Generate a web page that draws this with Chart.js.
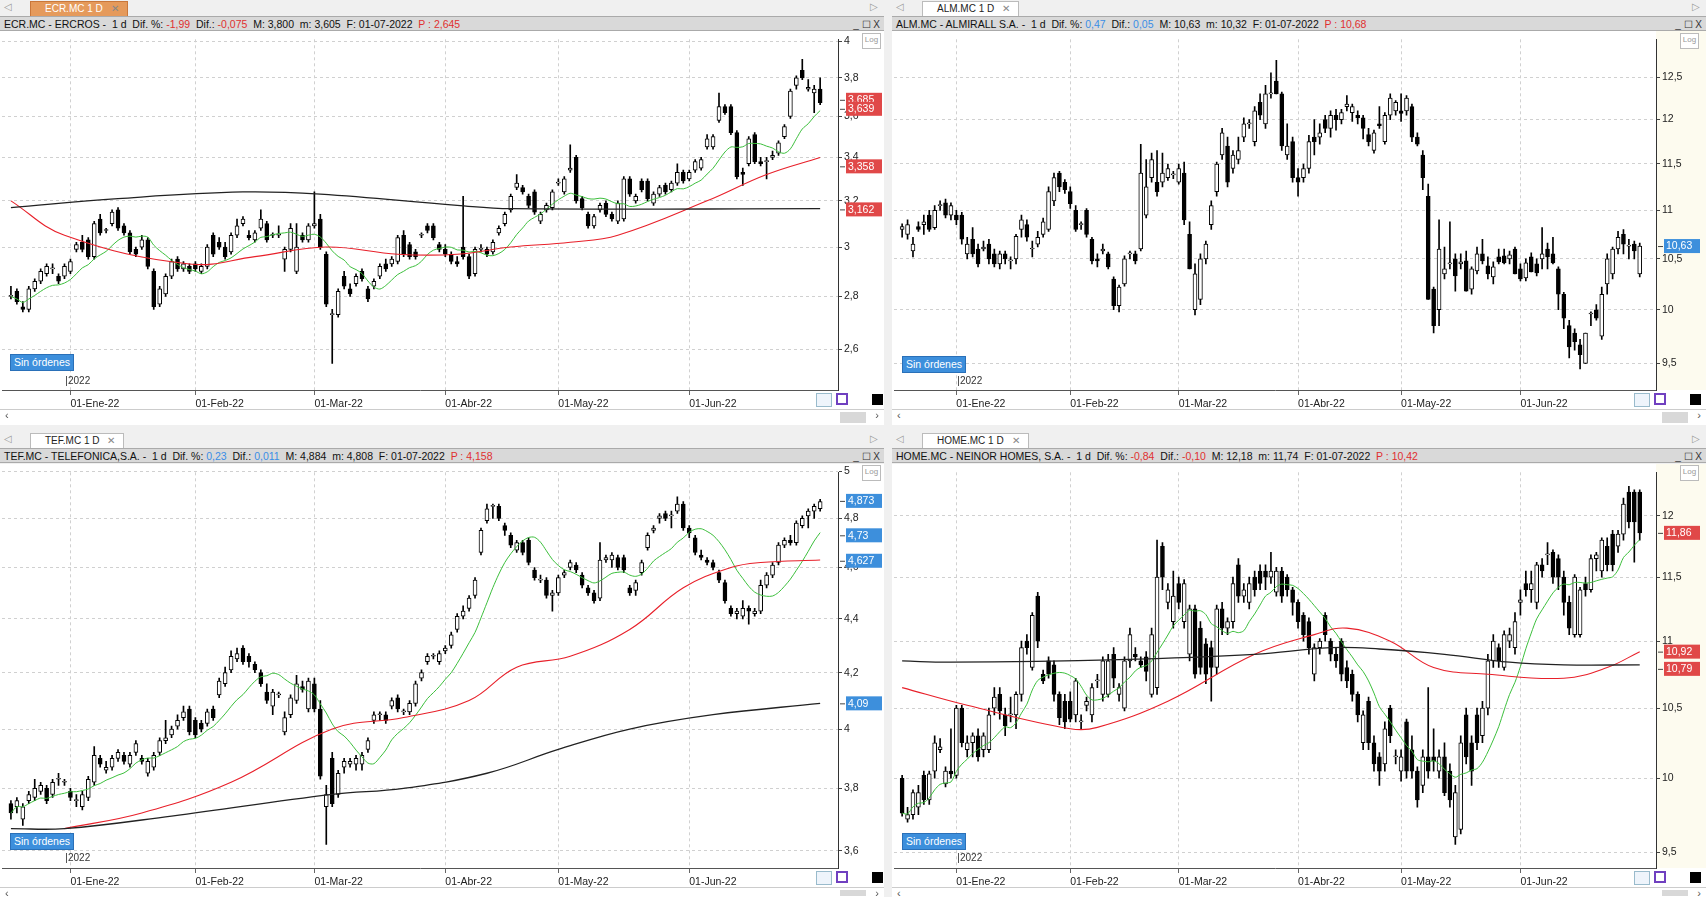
<!DOCTYPE html>
<html><head><meta charset="utf-8">
<script src="https://cdn.jsdelivr.net/npm/chart.js@4.4.1/dist/chart.umd.min.js"></script>
<style>
body{margin:0;width:1706px;height:897px;background:#f0f0f0;font-family:"Liberation Sans",Arial,sans-serif;overflow:hidden;position:relative}
.abs{position:absolute}
.tabrow{position:absolute;height:16px;background:#f0f0f0;border-bottom:1px solid #c8c8c8}
.tab{position:absolute;top:1px;height:14px;font-size:10px;line-height:14px;padding:0 8px 0 14px;background:#fff;border:1px solid #bbb;border-bottom:none;color:#222}
.tab.act{background:#e59a5b;color:#fff;border-color:#c9773a}
.tab span{margin-left:8px;color:#888}
.hdr{position:absolute;height:15px;background:#d9d9d9;border-top:1px solid #aaa;border-bottom:1px solid #aaa;font-size:10.5px;line-height:15px;white-space:nowrap;color:#111;padding-left:4px;box-sizing:border-box}
.hdr .r{color:#e03030}.hdr .b{color:#3a8ee6}
.hdr .win{position:absolute;right:4px;top:0;color:#333;font-size:10px}
.sc{position:absolute;background:#fff;border-top:1px solid #ccc;font-size:11px;color:#555}
.sc .th{position:absolute;right:18px;top:2px;width:26px;height:10px;background:#d8d8d8}
.sin{position:absolute;background:#3d8fdc;color:#fff;font-size:10.5px;line-height:15px;padding:0 3px;border:1px solid #2a70b8}
.y22{position:absolute;font-size:10px;color:#333;border-left:1px solid #555;padding-left:1px;line-height:10px}
.log{position:absolute;width:17px;height:14px;border:1px solid #bbb;font-size:8px;color:#999;text-align:center;line-height:12px;background:#fff}
canvas{position:absolute}
</style></head><body>
<script>
// ---------- DATA ----------
const monthIdx = [10, 31, 51, 73, 92, 114];
const monthLbl = ["01-Ene-22","01-Feb-22","01-Mar-22","01-Abr-22","01-May-22","01-Jun-22"];

const ercrosOHLC = [
[2.80,2.84,2.79,2.80],[2.82,2.83,2.77,2.78],[2.76,2.78,2.74,2.75],[2.75,2.84,2.74,2.83],[2.83,2.87,2.82,2.86],[2.86,2.91,2.85,2.90],[2.89,2.93,2.88,2.92],[2.91,2.93,2.89,2.91],[2.88,2.89,2.85,2.86],[2.88,2.93,2.87,2.92],
[2.90,2.95,2.89,2.94],[2.99,3.02,2.98,3.01],[3.02,3.05,2.98,2.99],[3.03,3.04,2.95,2.96],[2.96,3.11,2.95,3.10],[3.12,3.14,3.05,3.06],[3.07,3.08,3.06,3.07],[3.10,3.16,3.09,3.15],[3.16,3.17,3.07,3.08],[3.09,3.10,3.05,3.06],[3.06,3.07,2.97,2.98],[2.99,3.00,2.96,2.97],[3.00,3.05,2.99,3.03],[3.03,3.04,2.91,2.92],[2.90,2.91,2.75,2.76],[2.77,2.84,2.76,2.83],[2.81,2.89,2.80,2.88],[2.88,2.95,2.87,2.94],[2.95,2.96,2.90,2.91],[2.91,2.94,2.90,2.93],[2.92,2.93,2.89,2.90],
[2.93,2.94,2.90,2.91],[2.90,2.93,2.89,2.92],[2.92,3.01,2.91,3.00],[3.05,3.06,2.96,2.97],[3.02,3.04,2.99,3.00],[3.00,3.02,2.95,2.96],[2.98,3.06,2.97,3.05],[3.05,3.12,3.04,3.09],[3.10,3.13,3.09,3.12],[3.05,3.07,3.03,3.04],[3.03,3.07,3.02,3.06],[3.08,3.16,3.07,3.12],[3.10,3.11,3.02,3.03],[3.05,3.06,3.04,3.05],[3.05,3.09,3.04,3.05],[2.95,3.00,2.90,2.99],[2.99,3.10,2.98,3.08],[2.90,3.10,2.89,3.00],[3.05,3.06,3.02,3.03],[3.03,3.10,3.02,3.09],
[3.09,3.24,3.08,3.10],[3.12,3.14,2.99,3.00],[2.97,2.98,2.76,2.77],[2.73,2.75,2.55,2.73],[2.73,2.83,2.72,2.82],[2.88,2.90,2.83,2.84],[2.83,2.85,2.80,2.81],[2.85,2.89,2.84,2.88],[2.90,2.91,2.86,2.87],[2.83,2.84,2.78,2.79],[2.84,2.87,2.83,2.86],[2.88,2.93,2.87,2.92],[2.93,2.95,2.90,2.91],[2.93,2.96,2.92,2.95],[2.94,3.05,2.93,3.04],[3.05,3.07,2.96,2.97],[3.01,3.02,2.95,2.96],[2.98,2.99,2.95,2.96],[3.05,3.06,3.04,3.05],[3.09,3.10,3.06,3.07],[3.09,3.10,3.03,3.04],[3.01,3.02,2.98,2.99],
[2.99,3.01,2.96,2.97],[2.97,2.98,2.93,2.94],[2.94,2.96,2.92,2.93],[3.00,3.22,2.95,2.96],[2.96,2.97,2.87,2.88],[2.89,3.00,2.88,2.99],[2.99,3.01,2.98,2.99],[2.99,3.00,2.96,2.97],[2.98,3.03,2.97,3.02],[3.06,3.09,3.05,3.08],[3.10,3.15,3.09,3.14],[3.16,3.23,3.15,3.22],[3.26,3.32,3.25,3.28],[3.26,3.27,3.23,3.24],[3.22,3.23,3.17,3.18],[3.24,3.25,3.14,3.15],[3.11,3.15,3.10,3.14],[3.16,3.19,3.15,3.18],[3.17,3.25,3.16,3.24],
[3.28,3.30,3.27,3.28],[3.24,3.31,3.23,3.30],[3.34,3.46,3.33,3.35],[3.40,3.41,3.19,3.20],[3.21,3.22,3.16,3.17],[3.14,3.15,3.08,3.09],[3.09,3.14,3.08,3.13],[3.16,3.19,3.15,3.18],[3.19,3.20,3.13,3.14],[3.14,3.15,3.11,3.12],[3.11,3.20,3.10,3.19],[3.12,3.31,3.11,3.30],[3.30,3.31,3.22,3.23],[3.20,3.23,3.19,3.22],[3.29,3.30,3.24,3.25],[3.29,3.30,3.20,3.21],[3.19,3.24,3.18,3.23],[3.23,3.27,3.22,3.26],[3.27,3.28,3.23,3.24],[3.25,3.29,3.24,3.28],[3.28,3.37,3.27,3.33],[3.33,3.34,3.28,3.29],
[3.30,3.34,3.29,3.33],[3.34,3.39,3.33,3.38],[3.35,3.40,3.34,3.39],[3.45,3.51,3.44,3.49],[3.45,3.51,3.44,3.50],[3.58,3.72,3.57,3.65],[3.65,3.66,3.61,3.62],[3.65,3.66,3.51,3.52],[3.52,3.53,3.30,3.31],[3.33,3.35,3.27,3.32],[3.37,3.50,3.36,3.49],[3.51,3.52,3.37,3.38],[3.38,3.40,3.36,3.37],[3.38,3.40,3.30,3.38],[3.40,3.43,3.39,3.41],[3.42,3.48,3.41,3.47],[3.50,3.56,3.49,3.55],[3.60,3.74,3.59,3.73],[3.76,3.81,3.74,3.80],[3.84,3.90,3.79,3.80],[3.74,3.79,3.73,3.75],[3.72,3.76,3.62,3.74],[3.74,3.80,3.66,3.67]];
const ercrosMA50 = [[0,3.20],[9,3.05],[30,2.93],[41,2.96],[53,3.00],[65,2.97],[75,2.97],[84,3.00],[94,3.02],[102,3.05],[117,3.20],[127,3.32],[136,3.40]];
const ercrosMA200 = [[0,3.17],[18,3.21],[39,3.24],[52,3.23],[75,3.18],[84,3.165],[136,3.165]];
const ercrosTicks = [2.6,2.8,3,3.2,3.4,3.6,3.8,4];
const ercrosTags = [[3.685,"3,685"],[3.639,"3,639"],[3.358,"3,358"],[3.162,"3,162"]];

const almirallOHLC = [
[10.80,10.86,10.72,10.83],[10.75,10.90,10.70,10.85],[10.58,10.72,10.52,10.65],[10.83,10.88,10.78,10.80],[10.85,10.95,10.75,10.88],[10.95,11.00,10.78,10.80],[10.82,11.05,10.80,11.00],[11.05,11.10,11.00,11.05],[11.08,11.12,10.92,10.95],[10.95,11.08,10.90,11.05],
[10.95,11.00,10.85,10.90],[10.95,10.98,10.65,10.70],[10.55,10.72,10.50,10.65],[10.70,10.82,10.52,10.55],[10.60,10.65,10.42,10.45],[10.60,10.68,10.58,10.62],[10.65,10.70,10.45,10.50],[10.55,10.60,10.42,10.45],[10.45,10.58,10.40,10.55],[10.55,10.58,10.45,10.50],[10.48,10.52,10.40,10.48],[10.50,10.75,10.45,10.73],[10.80,10.95,10.72,10.90],[10.85,10.90,10.68,10.72],[10.60,10.68,10.52,10.60],[10.65,10.78,10.62,10.72],[10.75,10.92,10.72,10.88],[10.80,11.25,10.78,11.20],[11.10,11.40,11.05,11.35],[11.40,11.42,11.20,11.25],[11.30,11.33,11.18,11.22],[11.20,11.25,11.02,11.07],
[11.00,11.05,10.78,10.80],[10.85,10.88,10.80,10.85],[11.00,11.02,10.72,10.75],[10.70,10.72,10.45,10.48],[10.50,10.55,10.42,10.48],[10.58,10.65,10.55,10.60],[10.55,10.57,10.40,10.42],[10.30,10.32,10.00,10.04],[10.04,10.24,9.98,10.22],[10.25,10.53,10.23,10.50],[10.55,10.58,10.50,10.55],[10.55,10.58,10.45,10.48],[10.60,11.72,10.58,11.40],[10.95,11.55,10.92,11.25],[11.35,11.62,11.30,11.55],[11.30,11.65,11.15,11.20],[11.30,11.62,11.25,11.40],[11.35,11.50,11.32,11.45],[11.38,11.42,11.34,11.38],[11.30,11.50,11.28,11.45],[11.40,11.52,10.85,10.90],
[10.75,10.88,10.40,10.40],[10.00,10.45,9.95,10.35],[10.10,10.55,10.05,10.50],[10.50,10.68,10.45,10.65],[10.85,11.10,10.80,11.05],[11.20,11.52,11.15,11.50],[11.60,11.90,11.55,11.85],[11.70,11.80,11.25,11.30],[11.45,11.65,11.40,11.60],[11.55,11.80,11.50,11.65],[11.80,12.02,11.75,11.95],[11.95,12.00,11.90,11.95],[11.75,12.15,11.70,12.10],[12.20,12.30,12.00,12.05],[11.95,12.40,11.90,12.30],[12.30,12.55,12.25,12.30],[12.45,12.70,12.30,12.30],[12.30,12.32,11.65,11.70],[11.60,11.95,11.55,11.70],
[11.75,11.80,11.30,11.35],[11.35,11.45,11.15,11.30],[11.35,11.50,11.30,11.45],[11.45,11.82,11.40,11.75],[11.80,12.00,11.60,11.75],[11.80,11.95,11.72,11.85],[12.00,12.05,11.85,11.90],[11.90,12.10,11.80,12.05],[12.05,12.12,11.88,12.00],[12.00,12.12,11.95,12.08],[12.15,12.28,12.10,12.18],[12.08,12.18,11.98,12.15],[12.05,12.10,11.95,12.02],[12.02,12.05,11.78,11.90],[11.83,11.90,11.70,11.75],[11.65,11.88,11.62,11.85],[11.95,12.15,11.90,11.93],[11.75,12.08,11.72,12.05],[12.05,12.30,12.00,12.25],[12.10,12.22,12.05,12.20],[12.10,12.30,11.98,12.07],[12.10,12.28,12.05,12.25],[12.15,12.18,11.75,11.80],[11.80,11.85,11.70,11.72],[11.60,11.65,11.22,11.35],[11.15,11.28,10.10,10.10],[10.20,10.22,9.78,9.85],[10.00,10.90,9.85,10.60],[10.35,10.62,10.30,10.40],[10.45,10.88,10.40,10.45],[10.50,10.55,10.18,10.33],[10.45,10.55,10.40,10.47],[10.48,10.58,10.18,10.18],[10.20,10.42,10.15,10.40],[10.38,10.62,10.35,10.55],[10.55,10.70,10.45,10.48],[10.43,10.52,10.30,10.35],[10.32,10.47,10.25,10.42],[10.52,10.60,10.45,10.47],[10.53,10.60,10.45,10.46],[10.50,10.58,10.45,10.54],[10.60,10.62,10.35,10.35],[10.40,10.45,10.28,10.30],[10.31,10.50,10.28,10.46],[10.52,10.56,10.37,10.37],[10.45,10.50,10.33,10.36],[10.50,10.82,10.40,10.55],[10.60,10.66,10.40,10.52],[10.55,10.72,10.45,10.46],[10.40,10.42,10.00,10.15],[10.15,10.17,9.82,9.92],[9.85,9.90,9.55,9.65],[9.78,9.82,9.62,9.70],[9.67,9.72,9.45,9.58],[9.50,9.78,9.50,9.78],[9.96,9.98,9.85,9.96],[10.00,10.05,9.90,9.92],[9.75,10.22,9.72,10.15],[10.25,10.55,10.15,10.50],[10.35,10.62,10.30,10.60],[10.60,10.78,10.55,10.72],[10.75,10.80,10.55,10.65],[10.63,10.70,10.50,10.63],[10.65,10.68,10.50,10.58],[10.35,10.66,10.32,10.63]];
const almirallTicks = [9.5,10,10.5,11,11.5,12,12.5];
const almirallTags = [[10.63,"10,63"]];

const telefonicaOHLC = [
[3.75,3.76,3.70,3.72],[3.74,3.77,3.72,3.76],[3.70,3.75,3.68,3.74],[3.76,3.79,3.75,3.78],[3.77,3.83,3.76,3.80],[3.79,3.82,3.78,3.81],[3.80,3.81,3.75,3.76],[3.78,3.83,3.77,3.82],[3.83,3.85,3.81,3.83],[3.82,3.83,3.81,3.82],
[3.79,3.80,3.76,3.77],[3.76,3.78,3.74,3.76],[3.74,3.79,3.73,3.78],[3.77,3.84,3.76,3.83],[3.82,3.94,3.81,3.91],[3.90,3.91,3.87,3.88],[3.86,3.89,3.85,3.87],[3.87,3.91,3.86,3.90],[3.90,3.93,3.89,3.92],[3.91,3.92,3.88,3.89],[3.88,3.92,3.87,3.91],[3.92,3.96,3.91,3.95],[3.90,3.91,3.88,3.89],[3.85,3.90,3.84,3.89],[3.87,3.92,3.86,3.91],[3.92,3.97,3.91,3.96],[3.96,4.03,3.95,3.97],
[3.98,4.01,3.97,4.00],[4.01,4.05,4.00,4.03],[4.04,4.08,4.03,4.06],[4.07,4.08,3.98,3.99],[4.03,4.04,3.97,3.98],[4.02,4.03,3.99,4.00],[4.02,4.07,4.01,4.06],[4.07,4.08,4.03,4.04],[4.12,4.18,4.11,4.17],[4.16,4.22,4.15,4.20],[4.21,4.28,4.20,4.26],[4.25,4.29,4.24,4.27],[4.29,4.30,4.23,4.24],[4.26,4.27,4.22,4.24],[4.23,4.24,4.20,4.21],[4.20,4.21,4.15,4.16],[4.13,4.16,4.09,4.10],
[4.08,4.14,4.05,4.13],[4.12,4.13,4.11,4.12],[3.99,4.06,3.98,4.04],[4.05,4.12,4.04,4.11],[4.10,4.19,4.09,4.16],[4.15,4.17,4.13,4.14],[4.07,4.18,4.06,4.17],[4.16,4.18,4.06,4.07],
[4.07,4.10,3.83,3.84],[3.74,3.81,3.62,3.78],[3.90,3.92,3.74,3.75],[3.78,3.86,3.77,3.85],[3.87,3.90,3.85,3.89],[3.88,3.90,3.87,3.89],[3.88,3.91,3.86,3.90],[3.88,3.92,3.86,3.91],[3.93,3.97,3.92,3.96],[4.03,4.06,4.02,4.05],[4.05,4.06,4.03,4.05],[4.05,4.06,4.02,4.03],[4.08,4.11,4.07,4.10],[4.11,4.12,4.06,4.07],[4.06,4.07,4.05,4.06],[4.06,4.10,4.05,4.09],[4.09,4.17,4.08,4.16],[4.18,4.21,4.17,4.20],[4.24,4.27,4.23,4.26],[4.26,4.27,4.25,4.26],[4.24,4.28,4.23,4.27],[4.28,4.30,4.27,4.29],[4.30,4.35,4.29,4.34],
[4.36,4.42,4.35,4.41],[4.41,4.45,4.40,4.43],[4.44,4.49,4.43,4.48],[4.49,4.56,4.48,4.55],[4.66,4.76,4.65,4.75],[4.79,4.86,4.78,4.84],[4.85,4.86,4.80,4.85],[4.85,4.86,4.79,4.80],[4.77,4.78,4.73,4.75],[4.73,4.74,4.68,4.69],[4.67,4.71,4.66,4.70],[4.70,4.71,4.65,4.66],[4.71,4.72,4.61,4.62],[4.59,4.60,4.55,4.56],[4.55,4.57,4.54,4.55],[4.55,4.56,4.48,4.49],[4.49,4.51,4.43,4.50],[4.50,4.57,4.49,4.56],[4.57,4.59,4.56,4.58],
[4.60,4.63,4.59,4.62],[4.61,4.62,4.58,4.59],[4.57,4.58,4.52,4.53],[4.52,4.53,4.49,4.50],[4.50,4.51,4.46,4.47],[4.48,4.70,4.47,4.63],[4.63,4.65,4.62,4.64],[4.63,4.66,4.60,4.65],[4.64,4.65,4.59,4.60],[4.64,4.65,4.58,4.59],[4.52,4.53,4.49,4.50],[4.51,4.55,4.49,4.54],[4.58,4.63,4.57,4.62],[4.68,4.74,4.67,4.73],[4.75,4.77,4.74,4.76],[4.80,4.82,4.78,4.81],[4.82,4.83,4.79,4.80],[4.81,4.83,4.76,4.81],[4.83,4.89,4.82,4.86],[4.86,4.87,4.75,4.76],[4.76,4.77,4.72,4.74],[4.72,4.73,4.65,4.66],
[4.65,4.67,4.63,4.64],[4.63,4.64,4.61,4.62],[4.62,4.63,4.59,4.60],[4.58,4.59,4.54,4.55],[4.54,4.55,4.46,4.47],[4.44,4.45,4.41,4.42],[4.42,4.44,4.40,4.43],[4.41,4.47,4.40,4.44],[4.44,4.45,4.38,4.43],[4.42,4.44,4.41,4.43],[4.43,4.55,4.42,4.53],[4.53,4.58,4.52,4.57],[4.57,4.62,4.56,4.61],[4.62,4.70,4.61,4.69],[4.69,4.72,4.68,4.71],[4.71,4.73,4.69,4.70],[4.70,4.79,4.69,4.78],[4.77,4.81,4.76,4.80],[4.81,4.84,4.76,4.83],[4.83,4.86,4.80,4.85],[4.84,4.88,4.83,4.87]];
const telefonicaMA50 = [[9,3.67],[22,3.72],[37,3.82],[54,4.00],[66,4.04],[77,4.10],[85,4.22],[94,4.26],[104,4.36],[113,4.52],[121,4.60],[126,4.62],[136,4.63]];
const telefonicaMA200 = [[0,3.67],[9,3.67],[27,3.71],[54,3.78],[66,3.80],[80,3.85],[92,3.93],[104,4.00],[118,4.05],[136,4.09]];
const telefonicaTicks = [3.6,3.8,4,4.2,4.4,4.6,4.8,5];
const telefonicaTags = [[4.873,"4,873"],[4.73,"4,73"],[4.627,"4,627"],[4.09,"4,09"]];

const neinorOHLC = [
[10.00,10.02,9.74,9.76],[9.72,9.80,9.70,9.75],[9.75,9.92,9.72,9.90],[9.80,9.95,9.75,9.90],[10.02,10.05,9.82,9.85],[9.85,10.05,9.82,10.03],[10.05,10.30,10.00,10.25],[10.20,10.28,10.18,10.22],[9.96,10.08,9.94,10.05],[10.05,10.35,10.00,10.03],
[10.02,10.52,10.00,10.50],[10.50,10.52,10.22,10.25],[10.20,10.30,10.15,10.25],[10.25,10.32,10.15,10.30],[10.30,10.35,10.12,10.15],[10.20,10.32,10.15,10.30],[10.20,10.50,10.18,10.45],[10.50,10.65,10.45,10.58],[10.60,10.65,10.42,10.48],[10.45,10.50,10.30,10.37],[10.45,10.58,10.40,10.45],[10.45,10.62,10.35,10.60],[10.60,11.00,10.55,10.95],[11.00,11.05,10.90,10.95],[10.80,11.22,10.78,11.20],[11.35,11.38,10.95,11.00],[10.75,10.78,10.68,10.70],[10.85,10.88,10.72,10.75],[10.82,10.85,10.55,10.60],[10.60,10.62,10.38,10.43],[10.55,10.60,10.35,10.40],[10.55,10.62,10.40,10.42],
[10.45,10.72,10.40,10.70],[10.40,10.45,10.35,10.40],[10.52,10.58,10.48,10.55],[10.45,10.68,10.40,10.65],[10.70,10.75,10.65,10.70],[10.60,10.88,10.55,10.85],[10.60,10.90,10.58,10.85],[10.90,10.95,10.65,10.72],[10.60,10.68,10.55,10.65],[10.50,10.88,10.48,10.85],[10.85,11.10,10.80,11.05],[10.90,10.95,10.85,10.88],[10.85,10.88,10.80,10.82],[10.88,10.92,10.70,10.77],[10.60,11.10,10.58,11.05],[10.65,11.80,10.60,11.50],[11.75,11.78,11.40,11.50],[11.30,11.45,11.25,11.40],[11.15,11.55,11.10,11.35],[11.45,11.50,11.25,11.30],[11.15,11.48,11.10,11.45],
[10.90,11.28,10.85,11.25],[11.25,11.28,10.72,10.75],[11.10,11.15,10.75,10.80],[10.98,11.02,10.68,10.75],[10.95,11.00,10.55,10.80],[10.80,11.28,10.75,11.25],[11.25,11.30,11.05,11.10],[11.10,11.18,11.05,11.15],[11.15,11.50,11.10,11.45],[11.60,11.65,11.30,11.35],[11.35,11.45,11.30,11.40],[11.30,11.50,11.25,11.45],[11.50,11.55,11.35,11.40],[11.55,11.60,11.40,11.45],[11.55,11.60,11.40,11.50],[11.50,11.70,11.45,11.55],[11.38,11.58,11.35,11.55],[11.55,11.58,11.30,11.35],[11.50,11.52,11.35,11.40],[11.40,11.42,11.20,11.30],[11.30,11.32,11.10,11.15],
[11.20,11.22,11.00,11.05],[11.15,11.18,10.90,10.95],[10.75,10.98,10.70,10.95],[10.95,11.02,10.90,11.00],[11.20,11.22,11.00,11.05],[11.00,11.02,10.85,10.90],[10.90,10.95,10.80,10.85],[11.00,11.02,10.70,10.75],[10.80,10.85,10.65,10.70],[10.75,10.78,10.55,10.60],[10.60,10.62,10.40,10.45],[10.25,10.48,10.20,10.45],[10.55,10.58,10.20,10.25],[10.25,10.30,10.05,10.10],[10.15,10.18,9.95,10.05],[10.10,10.40,10.05,10.35],[10.50,10.52,10.25,10.30],[10.15,10.20,10.10,10.15],[10.05,10.20,9.98,10.15],[10.40,10.42,10.00,10.05],
[10.20,10.30,10.00,10.05],[10.05,10.08,9.80,9.85],[9.95,10.20,9.90,10.15],[10.15,10.65,10.00,10.05],[10.15,10.35,10.05,10.12],[10.05,10.20,10.00,10.15],[10.15,10.25,9.88,9.90],[10.05,10.10,9.80,9.85],[9.60,9.95,9.55,9.90],[9.65,10.30,9.62,10.25],[10.45,10.50,10.10,10.15],[10.25,10.30,9.95,10.05],[10.45,10.50,10.20,10.25],[10.30,10.55,10.25,10.50],[10.50,10.90,10.45,10.85],[10.85,11.05,10.80,11.00],[10.95,10.98,10.80,10.85],[10.80,11.08,10.78,11.05],[11.00,11.10,10.95,11.05],[10.95,11.22,10.90,11.15],[11.30,11.40,11.20,11.32],[11.45,11.55,11.35,11.40],[11.40,11.55,11.30,11.45],
[11.30,11.62,11.25,11.60],[11.60,11.65,11.50,11.55],[11.68,11.78,11.60,11.68],[11.70,11.72,11.45,11.50],[11.65,11.68,11.40,11.50],[11.50,11.55,11.20,11.30],[11.30,11.35,11.05,11.10],[11.05,11.52,11.03,11.50],[11.05,11.42,11.03,11.40],[11.45,11.50,11.35,11.40],[11.40,11.68,11.38,11.65],[11.65,11.70,11.55,11.68],[11.55,11.82,11.50,11.80],[11.75,11.82,11.55,11.60],[11.85,11.88,11.55,11.60],[11.75,11.88,11.70,11.85],[11.85,12.15,11.80,12.10],[12.20,12.25,11.90,11.95],[12.20,12.22,11.62,11.95],[12.20,12.22,11.80,11.86]];
const neinorMA50 = [[0,10.65],[12,10.52],[31,10.35],[36,10.36],[49,10.55],[65,10.90],[76,11.05],[82,11.10],[90,11.00],[98,10.80],[108,10.75],[122,10.72],[130,10.80],[136,10.92]];
const neinorMA200 = [[0,10.85],[9,10.84],[40,10.86],[65,10.90],[79,10.95],[88,10.94],[100,10.90],[112,10.84],[122,10.82],[136,10.82]];
const neinorTicks = [9.5,10,10.5,11,11.5,12];
const neinorTags = [[11.86,"11,86"],[10.92,"10,92"],[10.79,"10,79"]];
// ---------- END DATA ----------

const fmt = v => String(v).replace('.', ',');
function sparse(pairs){return pairs.map(p=>({x:p[0],y:p[1]}));}
function ma10(ohlc){
  const out=[];for(let i=0;i<ohlc.length;i++){let s=0,n=0;for(let j=Math.max(0,i-9);j<=i;j++){s+=ohlc[j][3];n++;}out.push({x:i,y:s/n});}return out;
}

const tagPlugin = {
  id:'tags',
  beforeDraw(c){
    const a=c.chartArea,ctx=c.ctx;
    ctx.save();
    ctx.fillStyle='#ffffff';ctx.fillRect(0,0,c.width,c.height);
    ctx.fillStyle=c.options.axisBg||'#fff';ctx.fillRect(a.right,0,c.width-a.right,a.bottom);
    ctx.restore();
  },
  afterDraw(c){
    const tags=c.options.tags||[],col=c.options.tagColor,y=c.scales.y,a=c.chartArea,ctx=c.ctx;
    ctx.save();
    ctx.font='10.5px "Liberation Sans", Arial';
    tags.forEach(t=>{
      const py=y.getPixelForValue(t[0]);
      ctx.fillStyle=col;ctx.fillRect(a.right+8,py-7,36,14);
      ctx.fillStyle='#fff';ctx.textBaseline='middle';ctx.fillText(t[1],a.right+10,py+0.5);
      ctx.strokeStyle='#444';ctx.lineWidth=1;ctx.beginPath();ctx.moveTo(a.right+2,py+0.5);ctx.lineTo(a.right+7,py+0.5);ctx.stroke();
    });
    ctx.restore();
  }
};

function makeChart(id,left,top,w,h,axisW,ohlc,ticks,yMin,yMax,ma50,ma200,tags,tagColor,green,axisBg){
  const cv=document.createElement('canvas');cv.id=id;cv.width=w;cv.height=h;
  cv.style.left=left+'px';cv.style.top=top+'px';cv.style.width=w+'px';cv.style.height=h+'px';
  document.body.appendChild(cv);
  const wick=ohlc.map((d,i)=>({x:i,y:[d[2],d[1]]}));
  const body=ohlc.map((d,i)=>({x:i,y:[Math.min(d[0],d[3]),Math.max(d[0],d[3])]}));
  const bcol=ohlc.map(d=>d[3]>=d[0]?'#ffffff':'#000000');
  const ds=[];
  if(ma200) ds.push({type:'line',data:sparse(ma200),borderColor:'#222',borderWidth:1.3,pointRadius:0,tension:0.4,order:-3});
  if(ma50) ds.push({type:'line',data:sparse(ma50),borderColor:'#e8202a',borderWidth:1.1,pointRadius:0,tension:0.4,order:-2});
  if(green) ds.push({type:'line',data:ma10(ohlc),borderColor:'#3cbf3c',borderWidth:1,pointRadius:0,tension:0.3,order:-1});
  ds.push({type:'bar',data:body,backgroundColor:bcol,borderColor:'#000',borderWidth:1,borderSkipped:false,barThickness:4,minBarLength:1,grouped:false,order:0});
  ds.push({type:'bar',data:wick,backgroundColor:'#000',borderWidth:0,barThickness:1,grouped:false,order:1});
  new Chart(cv,{
    data:{datasets:ds},
    plugins:[tagPlugin],
    options:{
      responsive:false,animation:false,events:[],
      tags:tags,tagColor:tagColor,axisBg:axisBg,
      layout:{padding:{left:2,top:0,right:0,bottom:0}},
      plugins:{legend:{display:false},tooltip:{enabled:false}},
      scales:{
        x:{type:'linear',min:-1.5,max:139,offset:false,bounds:'ticks',
          afterBuildTicks:s=>{s.ticks=monthIdx.map(v=>({value:v}));},
          afterFit:s=>{s.height=19;},
          ticks:{callback:(v)=>monthLbl[monthIdx.indexOf(v)],align:'start',maxRotation:0,autoSkip:false,font:{size:10.5,family:'"Liberation Sans", Arial'},color:'#222',padding:3},
          grid:{offset:false,color:'#d0d0d0',drawTicks:true,tickLength:5,tickColor:'#666'},
          border:{dash:[3,3],color:'#555'}},
        y:{type:'logarithmic',position:'right',min:yMin,max:yMax,
          afterBuildTicks:s=>{s.ticks=ticks.map(v=>({value:v}));},
          afterFit:s=>{s.width=axisW;},
          ticks:{callback:v=>fmt(v),font:{size:10.5,family:'"Liberation Sans", Arial'},color:'#222',padding:2},
          grid:{color:'#d0d0d0',tickLength:4,tickColor:'#444'},
          border:{dash:[3,3],color:'#333'}}
      }
    }
  });
}

function el(cls,style,html){const d=document.createElement('div');d.className=cls;d.setAttribute('style',style);d.innerHTML=html||'';document.body.appendChild(d);return d;}

function panel(x,w,top,tab,tabAct,tabX,hdr){
  el('tabrow',`left:${x}px;top:${top}px;width:${w}px`,`<span style="position:absolute;left:4px;top:1px;font-size:10px;color:#999">◁</span><span style="position:absolute;right:6px;top:1px;font-size:10px;color:#999">▷</span>`);
  el('tab'+(tabAct?' act':''),`left:${x+tabX}px;top:${top+1}px`,tab+'<span>✕</span>');
  el('hdr',`left:${x}px;top:${top+16}px;width:${w}px`,hdr+'<span class="win">_ ☐ X</span>');
}
function overlays(x,w,top,plotH,axisW,sinY){
  el('log',`left:${x+w-axisW+24}px;top:${top+33}px`,'Log');
  el('sin',`left:${x+10}px;top:${sinY}px`,'Sin órdenes');
  el('y22',`left:${x+66}px;top:${top+31+plotH-14}px`,'2022');
}

panel(0,884,0,'ECR.MC 1 D',true,30,'ECR.MC - ERCROS -&nbsp; 1 d&nbsp; Dif. %: <span class="r">-1,99</span>&nbsp; Dif.: <span class="r">-0,075</span>&nbsp; M: 3,800&nbsp; m: 3,605&nbsp; F: 01-07-2022&nbsp; <span class="r">P : 2,645</span>');
makeChart('c1',0,31,884,378,46,ercrosOHLC,ercrosTicks,2.457,4.01,ercrosMA50,ercrosMA200,ercrosTags,'#e04848',true,'#ffffff');
overlays(0,884,0,359,46,354);

panel(892,814,0,'ALM.MC 1 D',false,30,'ALM.MC - ALMIRALL S.A. -&nbsp; 1 d&nbsp; Dif. %: <span class="b">0,47</span>&nbsp; Dif.: <span class="b">0,05</span>&nbsp; M: 10,63&nbsp; m: 10,32&nbsp; F: 01-07-2022&nbsp; <span class="r">P : 10,68</span>');
makeChart('c2',892,31,814,378,50,almirallOHLC,almirallTicks,9.26,12.96,null,null,almirallTags,'#3d8fdc',false,'#fdfbef');
overlays(892,814,0,359,50,356);

panel(0,884,432,'TEF.MC 1 D',false,30,'TEF.MC - TELEFONICA,S.A. -&nbsp; 1 d&nbsp; Dif. %: <span class="b">0,23</span>&nbsp; Dif.: <span class="b">0,011</span>&nbsp; M: 4,884&nbsp; m: 4,808&nbsp; F: 01-07-2022&nbsp; <span class="r">P : 4,158</span>');
makeChart('c3',0,464,884,423,46,telefonicaOHLC,telefonicaTicks,3.547,4.995,telefonicaMA50,telefonicaMA200,telefonicaTags,'#3d8fdc',true,'#ffffff');
overlays(0,884,432,404,46,833);

panel(892,814,432,'HOME.MC 1 D',false,30,'HOME.MC - NEINOR HOMES, S.A. -&nbsp; 1 d&nbsp; Dif. %: <span class="r">-0,84</span>&nbsp; Dif.: <span class="r">-0,10</span>&nbsp; M: 12,18&nbsp; m: 11,74&nbsp; F: 01-07-2022&nbsp; <span class="r">P : 10,42</span>');
makeChart('c4',892,464,814,423,50,neinorOHLC,neinorTicks,9.395,12.37,neinorMA50,neinorMA200,neinorTags,'#e04848',true,'#fdfbef');
overlays(892,814,432,404,50,833);

[[0,409,884,15],[892,409,814,15],[0,887,884,10],[892,887,814,10]].forEach(s=>{
  el('sc',`left:${s[0]}px;top:${s[1]}px;width:${s[2]}px;height:${s[3]}px`,`<span style="position:absolute;left:5px;top:-1px">‹</span><span style="position:absolute;right:5px;top:-1px">›</span><div class="th" style="height:${s[3]-4}px"></div>`);
});
[[838,391],[1656,391],[838,869],[1656,869]].forEach(p=>{
  el('abs',`left:${p[0]-22}px;top:${p[1]+2}px;width:14px;height:12px;border:1px solid #9bc;background:#eef4fb`);
  el('abs',`left:${p[0]-2}px;top:${p[1]+2}px;width:12px;height:12px;border:2px solid #7040c0;box-sizing:border-box`);
  el('abs',`left:${p[0]+34}px;top:${p[1]+3}px;width:11px;height:11px;background:#000`);
});
</script>
</body></html>
